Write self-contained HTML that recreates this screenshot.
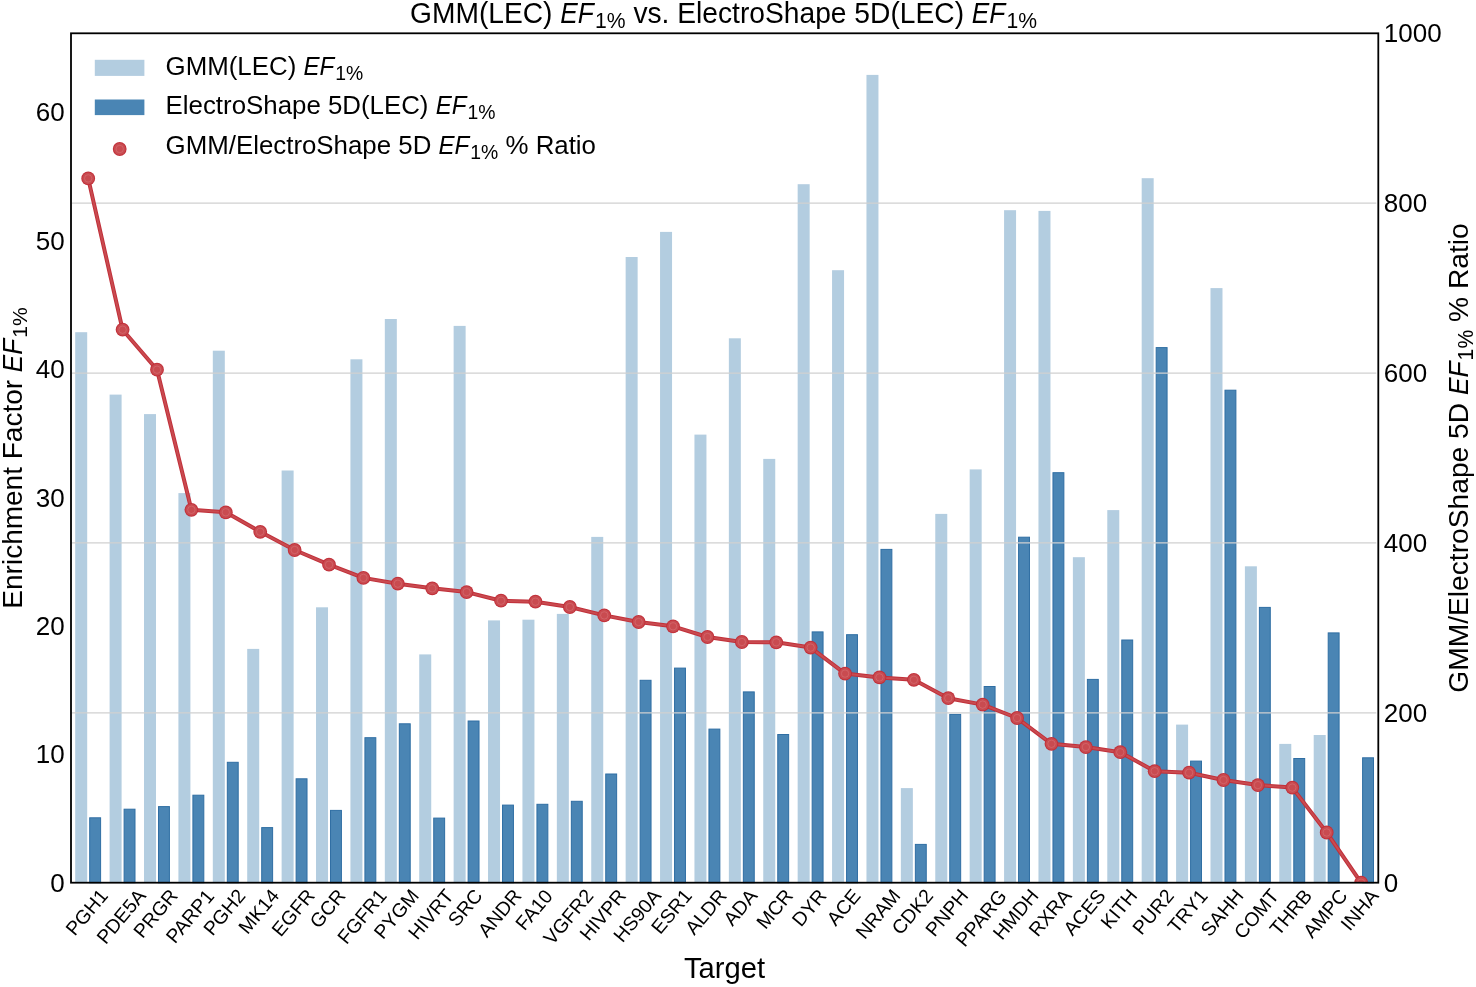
<!DOCTYPE html>
<html><head><meta charset="utf-8"><style>
html,body{margin:0;padding:0;background:#fff;width:1476px;height:987px;overflow:hidden}
svg{display:block;will-change:transform}
text{font-family:"Liberation Sans", sans-serif;fill:#000}
.tk{font-size:26px}
.xt{font-size:19.5px}
</style></head><body>
<svg width="1476" height="987" viewBox="0 0 1476 987">
<rect width="1476" height="987" fill="#fff"/>
<g id="bars">
<rect x="75.2" y="332.2" width="12" height="550.5" fill="#b3cde0"/>
<rect x="89.7" y="817.8" width="10.9" height="64.9" fill="#4a85b4" stroke="#2f6ea3" stroke-width="1"/>
<rect x="109.6" y="394.6" width="12" height="488.1" fill="#b3cde0"/>
<rect x="124.1" y="809.2" width="10.9" height="73.5" fill="#4a85b4" stroke="#2f6ea3" stroke-width="1"/>
<rect x="144.01" y="414.1" width="12" height="468.6" fill="#b3cde0"/>
<rect x="158.51" y="806.6" width="10.9" height="76.1" fill="#4a85b4" stroke="#2f6ea3" stroke-width="1"/>
<rect x="178.41" y="493.1" width="12" height="389.6" fill="#b3cde0"/>
<rect x="192.91" y="795.2" width="10.9" height="87.5" fill="#4a85b4" stroke="#2f6ea3" stroke-width="1"/>
<rect x="212.81" y="350.7" width="12" height="532" fill="#b3cde0"/>
<rect x="227.31" y="762.3" width="10.9" height="120.4" fill="#4a85b4" stroke="#2f6ea3" stroke-width="1"/>
<rect x="247.21" y="648.9" width="12" height="233.8" fill="#b3cde0"/>
<rect x="261.71" y="827.6" width="10.9" height="55.1" fill="#4a85b4" stroke="#2f6ea3" stroke-width="1"/>
<rect x="281.62" y="470.5" width="12" height="412.2" fill="#b3cde0"/>
<rect x="296.12" y="778.8" width="10.9" height="103.9" fill="#4a85b4" stroke="#2f6ea3" stroke-width="1"/>
<rect x="316.02" y="607.3" width="12" height="275.4" fill="#b3cde0"/>
<rect x="330.52" y="810.4" width="10.9" height="72.3" fill="#4a85b4" stroke="#2f6ea3" stroke-width="1"/>
<rect x="350.42" y="359.3" width="12" height="523.4" fill="#b3cde0"/>
<rect x="364.92" y="737.7" width="10.9" height="145" fill="#4a85b4" stroke="#2f6ea3" stroke-width="1"/>
<rect x="384.82" y="319" width="12" height="563.7" fill="#b3cde0"/>
<rect x="399.32" y="723.8" width="10.9" height="158.9" fill="#4a85b4" stroke="#2f6ea3" stroke-width="1"/>
<rect x="419.23" y="654.4" width="12" height="228.3" fill="#b3cde0"/>
<rect x="433.73" y="818.1" width="10.9" height="64.6" fill="#4a85b4" stroke="#2f6ea3" stroke-width="1"/>
<rect x="453.63" y="325.9" width="12" height="556.8" fill="#b3cde0"/>
<rect x="468.13" y="721" width="10.9" height="161.7" fill="#4a85b4" stroke="#2f6ea3" stroke-width="1"/>
<rect x="488.03" y="620.4" width="12" height="262.3" fill="#b3cde0"/>
<rect x="502.53" y="805.1" width="10.9" height="77.6" fill="#4a85b4" stroke="#2f6ea3" stroke-width="1"/>
<rect x="522.44" y="619.7" width="12" height="263" fill="#b3cde0"/>
<rect x="536.94" y="804.3" width="10.9" height="78.4" fill="#4a85b4" stroke="#2f6ea3" stroke-width="1"/>
<rect x="556.84" y="613.9" width="12" height="268.8" fill="#b3cde0"/>
<rect x="571.34" y="801.3" width="10.9" height="81.4" fill="#4a85b4" stroke="#2f6ea3" stroke-width="1"/>
<rect x="591.24" y="536.9" width="12" height="345.8" fill="#b3cde0"/>
<rect x="605.74" y="774" width="10.9" height="108.7" fill="#4a85b4" stroke="#2f6ea3" stroke-width="1"/>
<rect x="625.64" y="257" width="12" height="625.7" fill="#b3cde0"/>
<rect x="640.14" y="680.3" width="10.9" height="202.4" fill="#4a85b4" stroke="#2f6ea3" stroke-width="1"/>
<rect x="660.05" y="231.9" width="12" height="650.8" fill="#b3cde0"/>
<rect x="674.55" y="668.1" width="10.9" height="214.6" fill="#4a85b4" stroke="#2f6ea3" stroke-width="1"/>
<rect x="694.45" y="434.6" width="12" height="448.1" fill="#b3cde0"/>
<rect x="708.95" y="729.1" width="10.9" height="153.6" fill="#4a85b4" stroke="#2f6ea3" stroke-width="1"/>
<rect x="728.85" y="338.3" width="12" height="544.4" fill="#b3cde0"/>
<rect x="743.35" y="691.9" width="10.9" height="190.8" fill="#4a85b4" stroke="#2f6ea3" stroke-width="1"/>
<rect x="763.25" y="458.9" width="12" height="423.8" fill="#b3cde0"/>
<rect x="777.75" y="734.5" width="10.9" height="148.2" fill="#4a85b4" stroke="#2f6ea3" stroke-width="1"/>
<rect x="797.66" y="184.2" width="12" height="698.5" fill="#b3cde0"/>
<rect x="812.16" y="631.9" width="10.9" height="250.8" fill="#4a85b4" stroke="#2f6ea3" stroke-width="1"/>
<rect x="832.06" y="270.2" width="12" height="612.5" fill="#b3cde0"/>
<rect x="846.56" y="634.7" width="10.9" height="248" fill="#4a85b4" stroke="#2f6ea3" stroke-width="1"/>
<rect x="866.46" y="74.9" width="12" height="807.8" fill="#b3cde0"/>
<rect x="880.96" y="549.4" width="10.9" height="333.3" fill="#4a85b4" stroke="#2f6ea3" stroke-width="1"/>
<rect x="900.86" y="788.1" width="12" height="94.6" fill="#b3cde0"/>
<rect x="915.36" y="844.4" width="10.9" height="38.3" fill="#4a85b4" stroke="#2f6ea3" stroke-width="1"/>
<rect x="935.27" y="513.9" width="12" height="368.8" fill="#b3cde0"/>
<rect x="949.77" y="714.4" width="10.9" height="168.3" fill="#4a85b4" stroke="#2f6ea3" stroke-width="1"/>
<rect x="969.67" y="469.4" width="12" height="413.3" fill="#b3cde0"/>
<rect x="984.17" y="686.5" width="10.9" height="196.2" fill="#4a85b4" stroke="#2f6ea3" stroke-width="1"/>
<rect x="1004.07" y="210.2" width="12" height="672.5" fill="#b3cde0"/>
<rect x="1018.57" y="537.2" width="10.9" height="345.5" fill="#4a85b4" stroke="#2f6ea3" stroke-width="1"/>
<rect x="1038.47" y="210.9" width="12" height="671.8" fill="#b3cde0"/>
<rect x="1052.97" y="472.7" width="10.9" height="410" fill="#4a85b4" stroke="#2f6ea3" stroke-width="1"/>
<rect x="1072.88" y="557.2" width="12" height="325.5" fill="#b3cde0"/>
<rect x="1087.38" y="679.4" width="10.9" height="203.3" fill="#4a85b4" stroke="#2f6ea3" stroke-width="1"/>
<rect x="1107.28" y="510.1" width="12" height="372.6" fill="#b3cde0"/>
<rect x="1121.78" y="640" width="10.9" height="242.7" fill="#4a85b4" stroke="#2f6ea3" stroke-width="1"/>
<rect x="1141.68" y="178.2" width="12" height="704.5" fill="#b3cde0"/>
<rect x="1156.18" y="347.6" width="10.9" height="535.1" fill="#4a85b4" stroke="#2f6ea3" stroke-width="1"/>
<rect x="1176.09" y="724.6" width="12" height="158.1" fill="#b3cde0"/>
<rect x="1190.59" y="761.1" width="10.9" height="121.6" fill="#4a85b4" stroke="#2f6ea3" stroke-width="1"/>
<rect x="1210.49" y="288.1" width="12" height="594.6" fill="#b3cde0"/>
<rect x="1224.99" y="390.2" width="10.9" height="492.5" fill="#4a85b4" stroke="#2f6ea3" stroke-width="1"/>
<rect x="1244.89" y="566.3" width="12" height="316.4" fill="#b3cde0"/>
<rect x="1259.39" y="607.4" width="10.9" height="275.3" fill="#4a85b4" stroke="#2f6ea3" stroke-width="1"/>
<rect x="1279.29" y="743.9" width="12" height="138.8" fill="#b3cde0"/>
<rect x="1293.79" y="758.5" width="10.9" height="124.2" fill="#4a85b4" stroke="#2f6ea3" stroke-width="1"/>
<rect x="1313.7" y="735" width="12" height="147.7" fill="#b3cde0"/>
<rect x="1328.2" y="632.9" width="10.9" height="249.8" fill="#4a85b4" stroke="#2f6ea3" stroke-width="1"/>
<rect x="1362.6" y="757.8" width="10.9" height="124.9" fill="#4a85b4" stroke="#2f6ea3" stroke-width="1"/>
</g>
<g id="grid">
<line x1="72" y1="712.82" x2="1376.3" y2="712.82" stroke="#d0d0d0" stroke-width="1.3"/>
<line x1="72" y1="542.94" x2="1376.3" y2="542.94" stroke="#d0d0d0" stroke-width="1.3"/>
<line x1="72" y1="373.06" x2="1376.3" y2="373.06" stroke="#d0d0d0" stroke-width="1.3"/>
<line x1="72" y1="203.18" x2="1376.3" y2="203.18" stroke="#d0d0d0" stroke-width="1.3"/>
</g>
<defs><clipPath id="ax"><rect x="71" y="33.3" width="1307.3" height="849.4"/></clipPath></defs>
<g clip-path="url(#ax)">
<polyline points="88.2,178.4 122.6,329.7 157.01,369.7 191.41,509.8 225.81,512.3 260.21,531.8 294.62,550 329.02,564.7 363.42,577.9 397.82,583.7 432.23,588.3 466.63,592.1 501.03,600.7 535.44,601.7 569.84,607 604.24,615.4 638.64,622 673.05,626.3 707.45,637 741.85,642 776.25,642.3 810.66,647.6 845.06,673.6 879.46,677.4 913.86,679.8 948.27,698.2 982.67,704.6 1017.07,718 1051.47,743.8 1085.88,747.1 1120.28,752.2 1154.68,771.2 1189.09,772.7 1223.49,780 1257.89,785.1 1292.29,787.6 1326.7,832.5 1361.1,882.7" fill="none" stroke="#c1303a" stroke-width="4" stroke-linejoin="round"/><polyline points="88.2,178.4 122.6,329.7 157.01,369.7 191.41,509.8 225.81,512.3 260.21,531.8 294.62,550 329.02,564.7 363.42,577.9 397.82,583.7 432.23,588.3 466.63,592.1 501.03,600.7 535.44,601.7 569.84,607 604.24,615.4 638.64,622 673.05,626.3 707.45,637 741.85,642 776.25,642.3 810.66,647.6 845.06,673.6 879.46,677.4 913.86,679.8 948.27,698.2 982.67,704.6 1017.07,718 1051.47,743.8 1085.88,747.1 1120.28,752.2 1154.68,771.2 1189.09,772.7 1223.49,780 1257.89,785.1 1292.29,787.6 1326.7,832.5 1361.1,882.7" fill="none" stroke="#c94b50" stroke-width="2" stroke-linejoin="round"/>
<circle cx="88.2" cy="178.4" r="6.9" fill="#c1303a"/><circle cx="88.2" cy="178.4" r="5.9" fill="#c94b50"/><circle cx="88.2" cy="178.4" r="3.7" fill="none" stroke="#e08a90" stroke-width="0.8" stroke-opacity="0.45"/>
<circle cx="122.6" cy="329.7" r="6.9" fill="#c1303a"/><circle cx="122.6" cy="329.7" r="5.9" fill="#c94b50"/><circle cx="122.6" cy="329.7" r="3.7" fill="none" stroke="#e08a90" stroke-width="0.8" stroke-opacity="0.45"/>
<circle cx="157.01" cy="369.7" r="6.9" fill="#c1303a"/><circle cx="157.01" cy="369.7" r="5.9" fill="#c94b50"/><circle cx="157.01" cy="369.7" r="3.7" fill="none" stroke="#e08a90" stroke-width="0.8" stroke-opacity="0.45"/>
<circle cx="191.41" cy="509.8" r="6.9" fill="#c1303a"/><circle cx="191.41" cy="509.8" r="5.9" fill="#c94b50"/><circle cx="191.41" cy="509.8" r="3.7" fill="none" stroke="#e08a90" stroke-width="0.8" stroke-opacity="0.45"/>
<circle cx="225.81" cy="512.3" r="6.9" fill="#c1303a"/><circle cx="225.81" cy="512.3" r="5.9" fill="#c94b50"/><circle cx="225.81" cy="512.3" r="3.7" fill="none" stroke="#e08a90" stroke-width="0.8" stroke-opacity="0.45"/>
<circle cx="260.21" cy="531.8" r="6.9" fill="#c1303a"/><circle cx="260.21" cy="531.8" r="5.9" fill="#c94b50"/><circle cx="260.21" cy="531.8" r="3.7" fill="none" stroke="#e08a90" stroke-width="0.8" stroke-opacity="0.45"/>
<circle cx="294.62" cy="550" r="6.9" fill="#c1303a"/><circle cx="294.62" cy="550" r="5.9" fill="#c94b50"/><circle cx="294.62" cy="550" r="3.7" fill="none" stroke="#e08a90" stroke-width="0.8" stroke-opacity="0.45"/>
<circle cx="329.02" cy="564.7" r="6.9" fill="#c1303a"/><circle cx="329.02" cy="564.7" r="5.9" fill="#c94b50"/><circle cx="329.02" cy="564.7" r="3.7" fill="none" stroke="#e08a90" stroke-width="0.8" stroke-opacity="0.45"/>
<circle cx="363.42" cy="577.9" r="6.9" fill="#c1303a"/><circle cx="363.42" cy="577.9" r="5.9" fill="#c94b50"/><circle cx="363.42" cy="577.9" r="3.7" fill="none" stroke="#e08a90" stroke-width="0.8" stroke-opacity="0.45"/>
<circle cx="397.82" cy="583.7" r="6.9" fill="#c1303a"/><circle cx="397.82" cy="583.7" r="5.9" fill="#c94b50"/><circle cx="397.82" cy="583.7" r="3.7" fill="none" stroke="#e08a90" stroke-width="0.8" stroke-opacity="0.45"/>
<circle cx="432.23" cy="588.3" r="6.9" fill="#c1303a"/><circle cx="432.23" cy="588.3" r="5.9" fill="#c94b50"/><circle cx="432.23" cy="588.3" r="3.7" fill="none" stroke="#e08a90" stroke-width="0.8" stroke-opacity="0.45"/>
<circle cx="466.63" cy="592.1" r="6.9" fill="#c1303a"/><circle cx="466.63" cy="592.1" r="5.9" fill="#c94b50"/><circle cx="466.63" cy="592.1" r="3.7" fill="none" stroke="#e08a90" stroke-width="0.8" stroke-opacity="0.45"/>
<circle cx="501.03" cy="600.7" r="6.9" fill="#c1303a"/><circle cx="501.03" cy="600.7" r="5.9" fill="#c94b50"/><circle cx="501.03" cy="600.7" r="3.7" fill="none" stroke="#e08a90" stroke-width="0.8" stroke-opacity="0.45"/>
<circle cx="535.44" cy="601.7" r="6.9" fill="#c1303a"/><circle cx="535.44" cy="601.7" r="5.9" fill="#c94b50"/><circle cx="535.44" cy="601.7" r="3.7" fill="none" stroke="#e08a90" stroke-width="0.8" stroke-opacity="0.45"/>
<circle cx="569.84" cy="607" r="6.9" fill="#c1303a"/><circle cx="569.84" cy="607" r="5.9" fill="#c94b50"/><circle cx="569.84" cy="607" r="3.7" fill="none" stroke="#e08a90" stroke-width="0.8" stroke-opacity="0.45"/>
<circle cx="604.24" cy="615.4" r="6.9" fill="#c1303a"/><circle cx="604.24" cy="615.4" r="5.9" fill="#c94b50"/><circle cx="604.24" cy="615.4" r="3.7" fill="none" stroke="#e08a90" stroke-width="0.8" stroke-opacity="0.45"/>
<circle cx="638.64" cy="622" r="6.9" fill="#c1303a"/><circle cx="638.64" cy="622" r="5.9" fill="#c94b50"/><circle cx="638.64" cy="622" r="3.7" fill="none" stroke="#e08a90" stroke-width="0.8" stroke-opacity="0.45"/>
<circle cx="673.05" cy="626.3" r="6.9" fill="#c1303a"/><circle cx="673.05" cy="626.3" r="5.9" fill="#c94b50"/><circle cx="673.05" cy="626.3" r="3.7" fill="none" stroke="#e08a90" stroke-width="0.8" stroke-opacity="0.45"/>
<circle cx="707.45" cy="637" r="6.9" fill="#c1303a"/><circle cx="707.45" cy="637" r="5.9" fill="#c94b50"/><circle cx="707.45" cy="637" r="3.7" fill="none" stroke="#e08a90" stroke-width="0.8" stroke-opacity="0.45"/>
<circle cx="741.85" cy="642" r="6.9" fill="#c1303a"/><circle cx="741.85" cy="642" r="5.9" fill="#c94b50"/><circle cx="741.85" cy="642" r="3.7" fill="none" stroke="#e08a90" stroke-width="0.8" stroke-opacity="0.45"/>
<circle cx="776.25" cy="642.3" r="6.9" fill="#c1303a"/><circle cx="776.25" cy="642.3" r="5.9" fill="#c94b50"/><circle cx="776.25" cy="642.3" r="3.7" fill="none" stroke="#e08a90" stroke-width="0.8" stroke-opacity="0.45"/>
<circle cx="810.66" cy="647.6" r="6.9" fill="#c1303a"/><circle cx="810.66" cy="647.6" r="5.9" fill="#c94b50"/><circle cx="810.66" cy="647.6" r="3.7" fill="none" stroke="#e08a90" stroke-width="0.8" stroke-opacity="0.45"/>
<circle cx="845.06" cy="673.6" r="6.9" fill="#c1303a"/><circle cx="845.06" cy="673.6" r="5.9" fill="#c94b50"/><circle cx="845.06" cy="673.6" r="3.7" fill="none" stroke="#e08a90" stroke-width="0.8" stroke-opacity="0.45"/>
<circle cx="879.46" cy="677.4" r="6.9" fill="#c1303a"/><circle cx="879.46" cy="677.4" r="5.9" fill="#c94b50"/><circle cx="879.46" cy="677.4" r="3.7" fill="none" stroke="#e08a90" stroke-width="0.8" stroke-opacity="0.45"/>
<circle cx="913.86" cy="679.8" r="6.9" fill="#c1303a"/><circle cx="913.86" cy="679.8" r="5.9" fill="#c94b50"/><circle cx="913.86" cy="679.8" r="3.7" fill="none" stroke="#e08a90" stroke-width="0.8" stroke-opacity="0.45"/>
<circle cx="948.27" cy="698.2" r="6.9" fill="#c1303a"/><circle cx="948.27" cy="698.2" r="5.9" fill="#c94b50"/><circle cx="948.27" cy="698.2" r="3.7" fill="none" stroke="#e08a90" stroke-width="0.8" stroke-opacity="0.45"/>
<circle cx="982.67" cy="704.6" r="6.9" fill="#c1303a"/><circle cx="982.67" cy="704.6" r="5.9" fill="#c94b50"/><circle cx="982.67" cy="704.6" r="3.7" fill="none" stroke="#e08a90" stroke-width="0.8" stroke-opacity="0.45"/>
<circle cx="1017.07" cy="718" r="6.9" fill="#c1303a"/><circle cx="1017.07" cy="718" r="5.9" fill="#c94b50"/><circle cx="1017.07" cy="718" r="3.7" fill="none" stroke="#e08a90" stroke-width="0.8" stroke-opacity="0.45"/>
<circle cx="1051.47" cy="743.8" r="6.9" fill="#c1303a"/><circle cx="1051.47" cy="743.8" r="5.9" fill="#c94b50"/><circle cx="1051.47" cy="743.8" r="3.7" fill="none" stroke="#e08a90" stroke-width="0.8" stroke-opacity="0.45"/>
<circle cx="1085.88" cy="747.1" r="6.9" fill="#c1303a"/><circle cx="1085.88" cy="747.1" r="5.9" fill="#c94b50"/><circle cx="1085.88" cy="747.1" r="3.7" fill="none" stroke="#e08a90" stroke-width="0.8" stroke-opacity="0.45"/>
<circle cx="1120.28" cy="752.2" r="6.9" fill="#c1303a"/><circle cx="1120.28" cy="752.2" r="5.9" fill="#c94b50"/><circle cx="1120.28" cy="752.2" r="3.7" fill="none" stroke="#e08a90" stroke-width="0.8" stroke-opacity="0.45"/>
<circle cx="1154.68" cy="771.2" r="6.9" fill="#c1303a"/><circle cx="1154.68" cy="771.2" r="5.9" fill="#c94b50"/><circle cx="1154.68" cy="771.2" r="3.7" fill="none" stroke="#e08a90" stroke-width="0.8" stroke-opacity="0.45"/>
<circle cx="1189.09" cy="772.7" r="6.9" fill="#c1303a"/><circle cx="1189.09" cy="772.7" r="5.9" fill="#c94b50"/><circle cx="1189.09" cy="772.7" r="3.7" fill="none" stroke="#e08a90" stroke-width="0.8" stroke-opacity="0.45"/>
<circle cx="1223.49" cy="780" r="6.9" fill="#c1303a"/><circle cx="1223.49" cy="780" r="5.9" fill="#c94b50"/><circle cx="1223.49" cy="780" r="3.7" fill="none" stroke="#e08a90" stroke-width="0.8" stroke-opacity="0.45"/>
<circle cx="1257.89" cy="785.1" r="6.9" fill="#c1303a"/><circle cx="1257.89" cy="785.1" r="5.9" fill="#c94b50"/><circle cx="1257.89" cy="785.1" r="3.7" fill="none" stroke="#e08a90" stroke-width="0.8" stroke-opacity="0.45"/>
<circle cx="1292.29" cy="787.6" r="6.9" fill="#c1303a"/><circle cx="1292.29" cy="787.6" r="5.9" fill="#c94b50"/><circle cx="1292.29" cy="787.6" r="3.7" fill="none" stroke="#e08a90" stroke-width="0.8" stroke-opacity="0.45"/>
<circle cx="1326.7" cy="832.5" r="6.9" fill="#c1303a"/><circle cx="1326.7" cy="832.5" r="5.9" fill="#c94b50"/><circle cx="1326.7" cy="832.5" r="3.7" fill="none" stroke="#e08a90" stroke-width="0.8" stroke-opacity="0.45"/>
<circle cx="1361.1" cy="882.7" r="6.9" fill="#c1303a"/><circle cx="1361.1" cy="882.7" r="5.9" fill="#c94b50"/><circle cx="1361.1" cy="882.7" r="3.7" fill="none" stroke="#e08a90" stroke-width="0.8" stroke-opacity="0.45"/>
</g>
<rect x="71" y="33.3" width="1307.3" height="849.4" fill="none" stroke="#000" stroke-width="1.8"/>
<g class="tk">
<text x="64.7" y="891.8" text-anchor="end">0</text>
<text x="64.7" y="763.38" text-anchor="end">10</text>
<text x="64.7" y="634.97" text-anchor="end">20</text>
<text x="64.7" y="506.55" text-anchor="end">30</text>
<text x="64.7" y="378.13" text-anchor="end">40</text>
<text x="64.7" y="249.72" text-anchor="end">50</text>
<text x="64.7" y="121.3" text-anchor="end">60</text>
<text x="1383.8" y="891.8">0</text>
<text x="1383.8" y="721.92">200</text>
<text x="1383.8" y="552.04">400</text>
<text x="1383.8" y="382.16">600</text>
<text x="1383.8" y="212.28">800</text>
<text x="1383.8" y="42.4">1000</text>
</g>
<g class="xt">
<text transform="translate(86.7,912.2) rotate(-50)" text-anchor="middle" y="6.71">PGH1</text>
<text transform="translate(121.1,916.36) rotate(-50)" text-anchor="middle" y="6.71">PDE5A</text>
<text transform="translate(155.51,913.44) rotate(-50)" text-anchor="middle" y="6.71">PRGR</text>
<text transform="translate(189.91,916.36) rotate(-50)" text-anchor="middle" y="6.71">PARP1</text>
<text transform="translate(224.31,912.2) rotate(-50)" text-anchor="middle" y="6.71">PGH2</text>
<text transform="translate(258.71,911.38) rotate(-50)" text-anchor="middle" y="6.71">MK14</text>
<text transform="translate(293.12,912.61) rotate(-50)" text-anchor="middle" y="6.71">EGFR</text>
<text transform="translate(327.52,908.46) rotate(-50)" text-anchor="middle" y="6.71">GCR</text>
<text transform="translate(361.92,916.35) rotate(-50)" text-anchor="middle" y="6.71">FGFR1</text>
<text transform="translate(396.32,913.86) rotate(-50)" text-anchor="middle" y="6.71">PYGM</text>
<text transform="translate(430.73,914.27) rotate(-50)" text-anchor="middle" y="6.71">HIVRT</text>
<text transform="translate(465.13,907.63) rotate(-50)" text-anchor="middle" y="6.71">SRC</text>
<text transform="translate(499.53,913.03) rotate(-50)" text-anchor="middle" y="6.71">ANDR</text>
<text transform="translate(533.94,909.72) rotate(-50)" text-anchor="middle" y="6.71">FA10</text>
<text transform="translate(568.34,916.77) rotate(-50)" text-anchor="middle" y="6.71">VGFR2</text>
<text transform="translate(602.74,914.69) rotate(-50)" text-anchor="middle" y="6.71">HIVPR</text>
<text transform="translate(637.14,915.53) rotate(-50)" text-anchor="middle" y="6.71">HS90A</text>
<text transform="translate(671.55,911.38) rotate(-50)" text-anchor="middle" y="6.71">ESR1</text>
<text transform="translate(705.95,911.79) rotate(-50)" text-anchor="middle" y="6.71">ALDR</text>
<text transform="translate(740.35,907.22) rotate(-50)" text-anchor="middle" y="6.71">ADA</text>
<text transform="translate(774.75,908.87) rotate(-50)" text-anchor="middle" y="6.71">MCR</text>
<text transform="translate(809.16,907.63) rotate(-50)" text-anchor="middle" y="6.71">DYR</text>
<text transform="translate(843.56,907.22) rotate(-50)" text-anchor="middle" y="6.71">ACE</text>
<text transform="translate(877.96,913.86) rotate(-50)" text-anchor="middle" y="6.71">NRAM</text>
<text transform="translate(912.36,911.79) rotate(-50)" text-anchor="middle" y="6.71">CDK2</text>
<text transform="translate(946.77,912.62) rotate(-50)" text-anchor="middle" y="6.71">PNPH</text>
<text transform="translate(981.17,918.01) rotate(-50)" text-anchor="middle" y="6.71">PPARG</text>
<text transform="translate(1015.57,914.27) rotate(-50)" text-anchor="middle" y="6.71">HMDH</text>
<text transform="translate(1049.97,912.62) rotate(-50)" text-anchor="middle" y="6.71">RXRA</text>
<text transform="translate(1084.38,912.2) rotate(-50)" text-anchor="middle" y="6.71">ACES</text>
<text transform="translate(1118.78,908.88) rotate(-50)" text-anchor="middle" y="6.71">KITH</text>
<text transform="translate(1153.18,911.79) rotate(-50)" text-anchor="middle" y="6.71">PUR2</text>
<text transform="translate(1187.59,910.96) rotate(-50)" text-anchor="middle" y="6.71">TRY1</text>
<text transform="translate(1221.99,912.62) rotate(-50)" text-anchor="middle" y="6.71">SAHH</text>
<text transform="translate(1256.39,913.85) rotate(-50)" text-anchor="middle" y="6.71">COMT</text>
<text transform="translate(1290.79,912.2) rotate(-50)" text-anchor="middle" y="6.71">THRB</text>
<text transform="translate(1325.2,913.44) rotate(-50)" text-anchor="middle" y="6.71">AMPC</text>
<text transform="translate(1359.6,909.71) rotate(-50)" text-anchor="middle" y="6.71">INHA</text>
</g>
<g transform="matrix(1,0,0,1.035,0,-0.79)"><text x="410" y="22.6" font-size="28.2">GMM(LEC) <tspan font-style="italic" textLength="33.56" lengthAdjust="spacingAndGlyphs">EF</tspan><tspan font-size="21.15" dx="1.13" dy="5">1%</tspan><tspan dy="-5"> vs. ElectroShape 5D(LEC) </tspan><tspan font-style="italic" textLength="33.56" lengthAdjust="spacingAndGlyphs">EF</tspan><tspan font-size="21.15" dx="1.13" dy="5">1%</tspan><tspan dy="-5"></tspan></text></g>
<g id="legend">
<rect x="94.8" y="59.8" width="49.6" height="16.1" fill="#b3cde0"/>
<rect x="94.8" y="99.5" width="49.6" height="15.6" fill="#4a85b4"/>
<circle cx="119.7" cy="149" r="6.9" fill="#c1303a"/><circle cx="119.7" cy="149" r="5.9" fill="#c94b50"/><circle cx="119.7" cy="149" r="3.7" fill="none" stroke="#e08a90" stroke-width="0.8" stroke-opacity="0.45"/>
<text x="165.6" y="75.1" font-size="25.85">GMM(LEC) <tspan font-style="italic" textLength="30.76" lengthAdjust="spacingAndGlyphs">EF</tspan><tspan font-size="19.39" dx="1.03" dy="4.6">1%</tspan><tspan dy="-4.6"></tspan></text>
<text x="165.6" y="114.1" font-size="25.85">ElectroShape 5D(LEC) <tspan font-style="italic" textLength="30.76" lengthAdjust="spacingAndGlyphs">EF</tspan><tspan font-size="19.39" dx="1.03" dy="4.6">1%</tspan><tspan dy="-4.6"></tspan></text>
<text x="165.6" y="154.05" font-size="25.85">GMM/ElectroShape 5D <tspan font-style="italic" textLength="30.76" lengthAdjust="spacingAndGlyphs">EF</tspan><tspan font-size="19.39" dx="1.03" dy="4.6">1%</tspan><tspan dy="-4.6"> % Ratio</tspan></text>
</g>
<text transform="translate(22.3,458) rotate(-90)" text-anchor="middle" font-size="28">Enrichment Factor <tspan font-style="italic" textLength="33.32" lengthAdjust="spacingAndGlyphs">EF</tspan><tspan font-size="21" dx="1.12" dy="5">1%</tspan><tspan dy="-5"></tspan></text>
<text transform="translate(1468,458) rotate(-90)" text-anchor="middle" font-size="28.2">GMM/ElectroShape 5D <tspan font-style="italic" textLength="33.56" lengthAdjust="spacingAndGlyphs">EF</tspan><tspan font-size="21.15" dx="1.13" dy="5">1%</tspan><tspan dy="-5"> % Ratio</tspan></text>
<text x="724.6" y="978.3" text-anchor="middle" font-size="29.2">Target</text>
</svg>
</body></html>
